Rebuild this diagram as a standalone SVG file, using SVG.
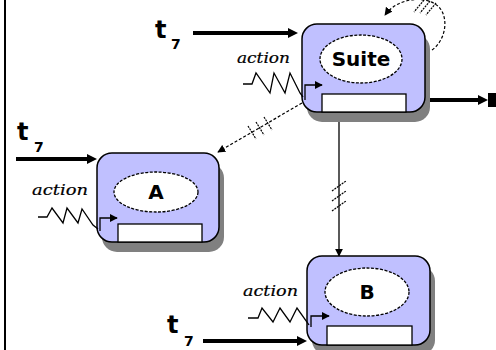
<svg xmlns="http://www.w3.org/2000/svg" width="496" height="350" viewBox="0 0 496 350">
<style>
.shadow{fill:#808080}
.box{fill:#c0c0ff;stroke:#000;stroke-width:1.5}
.oval{fill:#fff;stroke:#000;stroke-width:1.3;stroke-dasharray:3 1.5}
.slot{fill:#fff;stroke:#000;stroke-width:1.3}
.name{font-family:"DejaVu Sans",sans-serif;font-weight:bold;font-size:20px;text-anchor:middle;fill:#000}
.act{font-family:"DejaVu Serif","Liberation Serif",serif;font-style:italic;font-size:14px;fill:#000;stroke:#000;stroke-width:0.2}
.zig{fill:none;stroke:#000;stroke-width:1.3}
.trig{fill:none;stroke:#000;stroke-width:1.3}
.thick{fill:none;stroke:#000;stroke-width:4}
.dash{fill:none;stroke:#000;stroke-width:1.2;stroke-dasharray:3 2}
.solid{fill:none;stroke:#000;stroke-width:1.3}
.tick{fill:none;stroke:#000;stroke-width:1.2;stroke-dasharray:2 1}
.t{font-family:"DejaVu Sans",sans-serif;font-weight:bold;font-size:24px;fill:#000}
.sub{font-family:"DejaVu Sans",sans-serif;font-weight:bold;font-size:14px;fill:#000}
</style>
<defs>
<marker id="big" viewBox="0 0 10 10" refX="2" refY="5" markerWidth="10" markerHeight="11" markerUnits="userSpaceOnUse" orient="auto"><path d="M0,0 L10,5 L0,10 z" fill="#000"/></marker>
<marker id="small" viewBox="0 0 10 10" refX="9" refY="5" markerWidth="8" markerHeight="8" markerUnits="userSpaceOnUse" orient="auto"><path d="M0,0 L10,5 L0,10 z" fill="#000"/></marker>
</defs>
<rect width="496" height="350" fill="#fff"/>
<line x1="5" y1="0" x2="5" y2="350" stroke="#000" stroke-width="2"/>

<g id="connectors">
<!-- inputs t7 -->
<line class="thick" x1="193" y1="33" x2="290" y2="33" marker-end="url(#big)"/>
<line class="thick" x1="16" y1="159" x2="89" y2="159" marker-end="url(#big)"/>
<line class="thick" x1="203" y1="341" x2="299" y2="341" marker-end="url(#big)"/>
<!-- exit -->
<line class="thick" x1="430" y1="100" x2="480" y2="100" marker-end="url(#big)"/>
<rect x="488" y="93" width="8" height="14" fill="#000"/>
<!-- self loop -->
<path class="dash" d="M432,50 C446,40 449,18 439,7 C427,-5 398,-3 385,15" marker-end="url(#small)"/>
<line class="tick" x1="424" y1="0" x2="414" y2="12"/>
<line class="tick" x1="430" y1="1" x2="420" y2="13"/>
<line class="tick" x1="436" y1="3" x2="426" y2="15"/>
<!-- Suite to A -->
<line class="dash" x1="302" y1="103" x2="218" y2="152" marker-end="url(#small)"/>
<line class="tick" x1="248" y1="126" x2="256" y2="139"/>
<line class="tick" x1="256" y1="122" x2="264" y2="135"/>
<line class="tick" x1="264" y1="117" x2="272" y2="130"/>
<!-- Suite to B -->
<line class="solid" x1="339" y1="122" x2="339" y2="256" marker-end="url(#small)"/>
<line class="tick" x1="332" y1="191" x2="346" y2="181"/>
<line class="tick" x1="332" y1="201" x2="346" y2="191"/>
<line class="tick" x1="332" y1="211" x2="346" y2="201"/>
<!-- t7 labels -->
<text class="t" x="155" y="38">t</text><text class="sub" x="171" y="49">7</text>
<text class="t" x="17" y="140">t</text><text class="sub" x="34" y="152">7</text>
<text class="t" x="167" y="333">t</text><text class="sub" x="184" y="346">7</text>
</g>

<g id="suite">
<rect class="shadow" x="307" y="34" width="123" height="88" rx="15"/>
<rect class="box" x="302" y="24" width="123" height="88" rx="15"/>
<ellipse class="oval" cx="361" cy="59" rx="41" ry="24"/>
<rect class="slot" x="322" y="94" width="84" height="18"/>
<text class="name" x="361" y="66">Suite</text>
<text class="act" x="237" y="63" textLength="53" lengthAdjust="spacingAndGlyphs">action</text>
<polyline class="zig" points="243,84 252,84 256,73 270,93 274,73 285,93 290,73 300,93 303,97"/>
<polyline class="trig" points="305,100 305,85 322,85" marker-end="url(#small)"/>
</g>

<g id="node-a">
<rect class="shadow" x="102" y="163" width="122" height="89" rx="15"/>
<rect class="box" x="97" y="153" width="122" height="89" rx="15"/>
<ellipse class="oval" cx="156" cy="192" rx="42" ry="20"/>
<rect class="slot" x="118" y="224" width="84" height="18"/>
<text class="name" x="156" y="199">A</text>
<text class="act" x="32" y="195" textLength="56" lengthAdjust="spacingAndGlyphs">action</text>
<polyline class="zig" points="38,217 47,217 52,208 63,223 67,208 78,223 82,209 93,225 98,229"/>
<polyline class="trig" points="100,231 100,218 117,218" marker-end="url(#small)"/>
</g>

<g id="node-b">
<rect class="shadow" x="312" y="266" width="123" height="89" rx="15"/>
<rect class="box" x="307" y="256" width="123" height="89" rx="15"/>
<ellipse class="oval" cx="367" cy="292" rx="42" ry="24"/>
<rect class="slot" x="327" y="326" width="85" height="19"/>
<text class="name" x="367" y="299">B</text>
<text class="act" x="243" y="296" textLength="55" lengthAdjust="spacingAndGlyphs">action</text>
<polyline class="zig" points="248,318 258,318 262,308 273,322 280,308 290,322 297,308 307,322 309,325"/>
<polyline class="trig" points="311,327 311,316 329,316" marker-end="url(#small)"/>
</g>
</svg>
